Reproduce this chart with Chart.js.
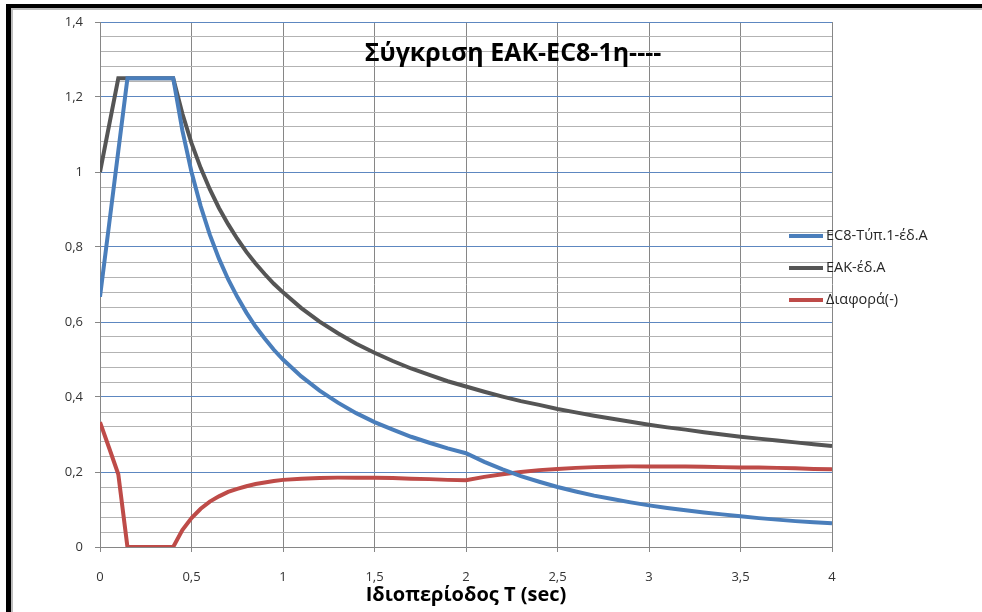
<!DOCTYPE html>
<html>
<head>
<meta charset="utf-8">
<script src="https://cdn.jsdelivr.net/npm/chart.js@4/dist/chart.umd.min.js"></script>
<style>
  html, body { margin: 0; padding: 0; background: #fff; }
  #wrap { position: relative; width: 982px; height: 612px; overflow: hidden; }
  #wrap canvas { position: absolute; left: 0; top: 0; }
  .frame {
    position: absolute; left: 6px; top: 4px; right: 0; bottom: 0;
    border-left: 5px solid #000; border-top: 4px solid #000;
    pointer-events: none;
  }
  .frame::after {
    content: ''; position: absolute; left: 0; top: 0; right: 0; bottom: 0;
    border-left: 2px solid #bdbdbd; border-top: 2px solid #bdbdbd;
  }
</style>
</head>
<body>
<div id="wrap">
  <canvas id="spectraChart" width="982" height="612"></canvas>
  <div class="frame"></div>
</div>
<script>
// Periods T (sec)
const periods = [0, 0.05, 0.1, 0.15, 0.2, 0.25, 0.3, 0.35, 0.4, 0.45, 0.5, 0.55, 0.6, 0.65, 0.7, 0.75, 0.8, 0.85, 0.9, 0.95,
  1.0, 1.1, 1.2, 1.3, 1.4, 1.5, 1.6, 1.7, 1.8, 1.9, 2.0, 2.1, 2.2, 2.3, 2.4, 2.5, 2.6, 2.7, 2.8, 2.9,
  3.0, 3.1, 3.2, 3.3, 3.4, 3.5, 3.6, 3.7, 3.8, 3.9, 4.0];

const ec8Values = [0.667, 0.861, 1.056, 1.25, 1.25, 1.25, 1.25, 1.25, 1.25, 1.111, 1.0, 0.909, 0.833, 0.769, 0.714, 0.667, 0.625, 0.588, 0.556, 0.526,
  0.5, 0.455, 0.417, 0.385, 0.357, 0.333, 0.313, 0.294, 0.278, 0.263, 0.25, 0.227, 0.207, 0.189, 0.174, 0.16, 0.148, 0.137, 0.128, 0.119,
  0.111, 0.104, 0.098, 0.092, 0.087, 0.082, 0.077, 0.073, 0.069, 0.066, 0.063];

const eakValues = [1.0, 1.125, 1.25, 1.25, 1.25, 1.25, 1.25, 1.25, 1.25, 1.156, 1.077, 1.011, 0.954, 0.904, 0.861, 0.822, 0.787, 0.756, 0.728, 0.702,
  0.679, 0.637, 0.601, 0.570, 0.542, 0.518, 0.496, 0.476, 0.459, 0.442, 0.428, 0.414, 0.401, 0.389, 0.379, 0.368, 0.359, 0.350, 0.342, 0.334,
  0.326, 0.319, 0.313, 0.306, 0.300, 0.294, 0.289, 0.284, 0.279, 0.274, 0.269];

const diffValues = [0.333, 0.264, 0.194, 0, 0, 0, 0, 0, 0, 0.045, 0.077, 0.102, 0.121, 0.135, 0.147, 0.155, 0.162, 0.168, 0.172, 0.176,
  0.179, 0.182, 0.184, 0.185, 0.185, 0.185, 0.184, 0.182, 0.181, 0.179, 0.178, 0.187, 0.194, 0.200, 0.205, 0.208, 0.211, 0.213, 0.214, 0.215,
  0.215, 0.215, 0.215, 0.214, 0.213, 0.212, 0.212, 0.211, 0.210, 0.208, 0.207];

const seriesNames = ['EC8-Τύπ.1-έδ.A', 'EAK-έδ.A', 'Διαφορά(-)'];
const seriesColors = ['#4a7ebb', '#555555', '#be4b48'];

const chartTitle = 'Σύγκριση EAK-EC8-1η----';
const xTitle = 'Ιδιοπερίοδος Τ (sec)';

const FONT = '"Open Sans", "Noto Sans", sans-serif';

const toPoints = (vals) => vals.map((v, i) => ({ x: periods[i], y: v }));
const isMajor = (v) => Math.abs(v / 0.2 - Math.round(v / 0.2)) < 1e-6;
const fmt = (v) => String(Number(v.toFixed(2))).replace('.', ',');

// title sits inside the plot area, legend overlaps its right edge
const overlayText = {
  id: 'overlayText',
  afterDraw(chart) {
    const { ctx, chartArea } = chart;
    ctx.save();
    ctx.fillStyle = '#000';
    ctx.font = 'bold 25px ' + FONT;
    ctx.textAlign = 'center';
    ctx.textBaseline = 'middle';
    ctx.fillText(chartTitle, chartArea.left + 413, chartArea.top + 32);

    ctx.font = '14.5px ' + FONT;
    ctx.textAlign = 'left';
    chart.data.datasets.forEach((ds, i) => {
      const y = chartArea.top + 214 + i * 32;
      const x0 = chartArea.right - 43;
      ctx.strokeStyle = ds.borderColor;
      ctx.lineWidth = 4;
      ctx.beginPath();
      ctx.moveTo(x0, y);
      ctx.lineTo(x0 + 34, y);
      ctx.stroke();
      ctx.fillStyle = '#262626';
      ctx.fillText(ds.label, x0 + 37, y);
    });
    ctx.restore();
  }
};

new Chart(document.getElementById('spectraChart').getContext('2d'), {
  type: 'line',
  data: {
    datasets: [ec8Values, eakValues, diffValues].map((vals, i) => ({
      label: seriesNames[i],
      data: toPoints(vals),
      borderColor: seriesColors[i],
      backgroundColor: seriesColors[i],
      borderWidth: 4,
      pointRadius: 0,
      tension: 0,
      fill: false
    }))
  },
  options: {
    responsive: false,
    animation: false,
    layout: { padding: { top: 22, right: 150, bottom: 0, left: 0 } },
    plugins: {
      legend: { display: false },
      tooltip: { enabled: false },
      title: { display: false }
    },
    scales: {
      x: {
        type: 'linear',
        min: 0,
        max: 4,
        afterFit: (scale) => { scale.height = 65; },
        ticks: {
          stepSize: 0.5,
          color: '#333',
          font: { family: FONT, size: 13 },
          padding: 17,
          maxRotation: 0,
          callback: (v) => fmt(v)
        },
        grid: { color: '#868686', tickColor: '#868686', tickLength: 5, lineWidth: 1 },
        border: { color: '#868686' },
        title: {
          display: true,
          text: xTitle,
          color: '#000',
          font: { family: FONT, size: 20, weight: 'bold' },
          padding: { top: 0, bottom: 5 }
        }
      },
      y: {
        min: 0,
        max: 1.4,
        afterFit: (scale) => { scale.width = 100; },
        ticks: {
          stepSize: 0.04,
          maxTicksLimit: 100,
          autoSkip: false,
          color: '#333',
          font: { family: FONT, size: 13 },
          padding: 12,
          callback: (v) => isMajor(v) ? fmt(v) : ''
        },
        grid: {
          color: (c) => isMajor(c.tick.value) ? '#5d87c0' : '#b3b3b3',
          tickColor: (c) => isMajor(c.tick.value) ? '#868686' : 'rgba(0,0,0,0)',
          tickLength: 5,
          lineWidth: 1
        },
        border: { color: '#868686' }
      }
    }
  },
  plugins: [overlayText]
});
</script>
</body>
</html>
